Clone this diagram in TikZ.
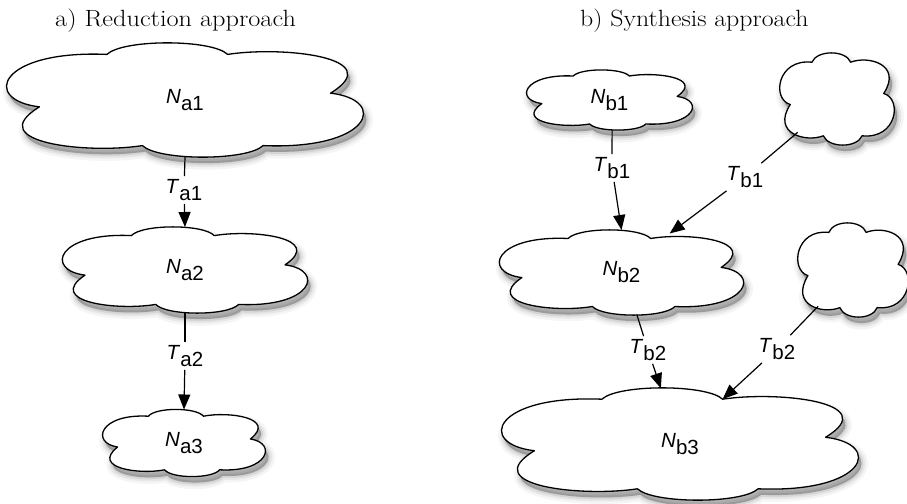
\documentclass[tikz,border=0pt]{standalone}
\usepackage{fontspec}
\newfontfamily\labfont{Liberation Sans}
\usetikzlibrary{shapes.geometric,arrows.meta}
\newcommand{\lbl}[2]{{\labfont\fontsize{20.5}{20.5}\selectfont\textit{#1}\raisebox{-7pt}{#2}}}
\newcommand{\cloudpath}[1]{\path[#1] (-0.82,0.12) .. controls (-1.15,0.0) and (-1.05,-0.88) .. (-0.44,-0.8) .. controls (-0.35,-1.07) and (0.15,-1.07) .. (0.24,-0.8) .. controls (0.55,-0.95) and (1.15,-0.75) .. (0.82,-0.12) .. controls (1.15,0.0) and (1.05,0.88) .. (0.44,0.8) .. controls (0.35,1.07) and (-0.15,1.07) .. (-0.24,0.8) .. controls (-0.55,0.95) and (-1.15,0.75) .. (-0.82,0.12) -- cycle;}
% name, x, y, width, height, text
\newcommand{\mycloud}[6]{%
  \begin{scope}[shift={(#2+3,#3+6)}, xscale=#4/2, yscale=#5/2]
    \cloudpath{shadowwide}
    \cloudpath{shadowmid}
    \cloudpath{shadownarrow}
    \cloudpath{shadowcore}
  \end{scope}
  \begin{scope}[shift={(#2,#3)}, xscale=#4/2, yscale=#5/2]
    \cloudpath{cloudline}
    \coordinate (#1-c1) at (-0.44,-0.8);
    \coordinate (#1-c2) at (0.24,-0.8);
  \end{scope}
  \node[anc, minimum width=#4pt, minimum height=#5pt] (#1) at (#2,#3) {#6};
}
\begin{document}
\begin{tikzpicture}[x=1pt,y=-1pt,
  shadowwide/.style={fill=black, fill opacity=0.04, draw=black, draw opacity=0.04, line width=13pt, line join=round},
  shadowmid/.style={fill=black, fill opacity=0.06, draw=black, draw opacity=0.06, line width=8pt, line join=round},
  shadownarrow/.style={fill=black, fill opacity=0.08, draw=black, draw opacity=0.08, line width=4pt, line join=round},
  shadowcore/.style={fill=black, fill opacity=0.12},
  cloudline/.style={fill=white, draw=black, line width=1.3pt, line join=round},
  anc/.style={ellipse, inner sep=0pt, outer sep=0pt},
  title/.style={anchor=base west, inner sep=0pt, font=\fontsize{23.5}{24}\selectfont},
  tl/.style={inner sep=3pt},
  ln/.style={line width=1.2pt},
  arr/.style={line width=1.2pt, -{Triangle[length=15pt,width=12pt]}}]
\useasboundingbox (0,0) rectangle (907,503);
\node[title] (ta) at (55,27) {\scalebox{1.12}[1]{a) Reduction approach}};
\node[title] (tb) at (580,27) {\scalebox{1.1}[1]{b) Synthesis approach}};
% clouds
\mycloud{Na1}{185}{100}{355}{114}{\lbl{N}{a1}}
\mycloud{Na2}{185}{270}{244}{86}{\lbl{N}{a2}}
\mycloud{Na3}{184}{443}{162}{67}{\lbl{N}{a3}}
\mycloud{Nb1}{609.5}{100}{165}{60}{\lbl{N}{b1}}
\mycloud{Ctop}{837}{99}{114}{92}{}
\mycloud{Nb2}{621.5}{272.5}{243}{85}{\lbl{N}{b2}}
\mycloud{Cbot}{853}{270}{110}{94}{}
\mycloud{Nb3}{680}{444}{355}{112}{\lbl{N}{b3}}
% transition labels
\node[tl] (Ta1) at (184,190) {\lbl{T}{a1}};
\node[tl] (Ta2) at (185,356) {\lbl{T}{a2}};
\node[tl] (Tb1a) at (612,168) {\lbl{T}{b1}};
\node[tl] (Tb1b) at (745,177) {\lbl{T}{b1}};
\node[tl] (Tb2a) at (648,350) {\lbl{T}{b2}};
\node[tl] (Tb2b) at (777,349) {\lbl{T}{b2}};
% connectors
\draw[ln] (Na1.south) -- (Ta1);
\draw[arr] (Ta1) -- (Na2.north);
\draw[ln] (Na2.south) -- (Ta2);
\draw[arr] (Ta2) -- (Na3.north);
\draw[ln] (Nb1.-85) -- (Tb1a);
\draw[arr] (Tb1a) -- (Nb2.north);
\draw[ln] (Ctop) -- (Tb1b);
\draw[arr] (Tb1b) -- (Nb2.39);
\draw[ln] (Nb2.-70) -- (Tb2a);
\draw[arr] (Tb2a) -- (Nb3.109);
\draw[ln] (Cbot) -- (Tb2b);
\draw[arr] (Tb2b) -- (Nb3-c2);
\end{tikzpicture}
\end{document}
